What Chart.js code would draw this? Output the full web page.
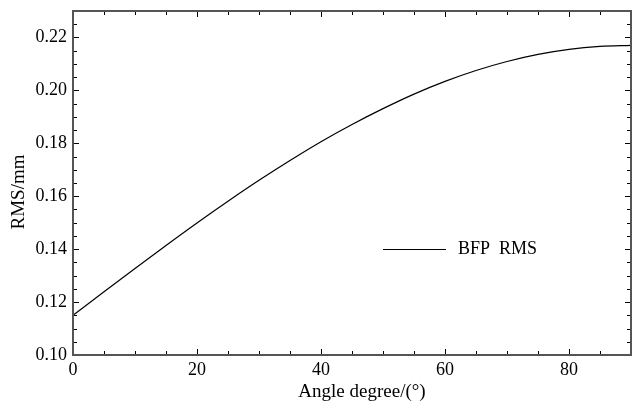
<!DOCTYPE html>
<html>
<head>
<meta charset="utf-8">
<title>BFP RMS vs angle</title>
<script src="https://cdn.jsdelivr.net/npm/chart.js@4.4.0/dist/chart.umd.min.js"></script>
<style>
  html, body { margin: 0; padding: 0; background: #fff; }
  #wrap { width: 632px; height: 404px; }
</style>
</head>
<body>
<div id="wrap"><canvas id="rmsChart" width="632" height="404"></canvas></div>
<script>
// RMS of the BFP surface against tilt angle
const angles = [0, 5, 10, 15, 20, 25, 30, 35, 40, 45, 50, 55, 60, 65, 70, 75, 80, 85, 90];
const rmsValues = [0.115, 0.1239, 0.1327, 0.1414, 0.1499, 0.1581, 0.166, 0.1735, 0.1806,
  0.1871, 0.1931, 0.1986, 0.2034, 0.2075, 0.2109, 0.2136, 0.2155, 0.2166, 0.217];

const xTicks = [0, 20, 40, 60, 80];
const yTicks = [0.10, 0.12, 0.14, 0.16, 0.18, 0.20, 0.22];
const xRange = [0, 90];
const yRange = [0.10, 0.23];

const serif = "'Liberation Serif', 'Times New Roman', serif";
const frameColor = "#555";

// minor ticks every 5 degrees and every 0.005 mm
const xMinor = [];
for (let v = 0; v <= 90; v += 5) xMinor.push(v);
const yMinor = [];
for (let i = 0; i <= 26; i++) yMinor.push(+(0.10 + i * 0.005).toFixed(3));

const frameAndTicks = {
  id: "frameAndTicks",
  afterDatasetsDraw(chart) {
    const { ctx, chartArea: a, scales } = chart;
    const xs = scales.x, ys = scales.y;
    ctx.save();

    // inward tick marks on all four sides
    ctx.strokeStyle = "#000";
    ctx.lineWidth = 1;
    const isMajorX = (v) => xTicks.includes(v);
    const isMajorY = (v) => yTicks.some((t) => Math.abs(t - v) < 1e-6);
    ctx.beginPath();
    xMinor.forEach((v) => {
      const px = Math.round(xs.getPixelForValue(v)) + 0.5;
      const len = isMajorX(v) ? 6 : 4;
      ctx.moveTo(px, a.bottom); ctx.lineTo(px, a.bottom - len);
      ctx.moveTo(px, a.top); ctx.lineTo(px, a.top + len);
    });
    yMinor.forEach((v) => {
      const py = Math.round(ys.getPixelForValue(v)) + 0.5;
      const len = isMajorY(v) ? 6 : 4;
      ctx.moveTo(a.left, py); ctx.lineTo(a.left + len, py);
      ctx.moveTo(a.right, py); ctx.lineTo(a.right - len, py);
    });
    ctx.stroke();

    // box around the plot
    ctx.strokeStyle = frameColor;
    ctx.lineWidth = 2;
    ctx.strokeRect(a.left, a.top, a.right - a.left, a.bottom - a.top);
    ctx.restore();
  }
};

const axisTitles = {
  id: "axisTitles",
  afterDraw(chart) {
    const { ctx, chartArea: a } = chart;
    ctx.save();
    ctx.fillStyle = "#000";
    ctx.font = "19px " + serif;
    ctx.textAlign = "center";
    ctx.textBaseline = "alphabetic";
    ctx.fillText("Angle degree/(\u00b0)", (a.left + a.right) / 2 + 10, 397);

    ctx.translate(24, (a.top + a.bottom) / 2 + 9);
    ctx.rotate(-Math.PI / 2);
    ctx.fillText("RMS/mm", 0, 0);
    ctx.restore();
  }
};

// legend sitting inside the plot, right of centre
const innerLegend = {
  id: "innerLegend",
  afterDraw(chart) {
    const { ctx } = chart;
    const ds = chart.data.datasets[0];
    const y = 249;
    ctx.save();
    ctx.strokeStyle = ds.borderColor;
    ctx.lineWidth = ds.borderWidth;
    ctx.beginPath();
    ctx.moveTo(383, y + 0.5);
    ctx.lineTo(446, y + 0.5);
    ctx.stroke();
    ctx.fillStyle = "#000";
    ctx.font = "18px " + serif;
    ctx.textBaseline = "middle";
    ctx.fillText(ds.label, 458, y);
    ctx.restore();
  }
};

new Chart(document.getElementById("rmsChart"), {
  type: "line",
  data: {
    labels: angles,
    datasets: [{
      label: "BFP  RMS",
      data: angles.map((a, i) => ({ x: a, y: rmsValues[i] })),
      borderColor: "#000",
      borderWidth: 1.2,
      pointRadius: 0,
      fill: false,
      cubicInterpolationMode: "monotone"
    }]
  },
  options: {
    responsive: false,
    animation: false,
    layout: { padding: { top: 11, right: 1, left: 0, bottom: 0 } },
    plugins: {
      legend: { display: false },
      tooltip: { enabled: false }
    },
    scales: {
      x: {
        type: "linear",
        min: xRange[0],
        max: xRange[1],
        grid: { display: false, drawTicks: false },
        border: { display: false },
        afterBuildTicks: (scale) => { scale.ticks = xTicks.map((v) => ({ value: v })); },
        afterFit: (scale) => {
          scale.height = 49;
          scale.paddingLeft = 0;
          scale.paddingRight = 0;
        },
        ticks: {
          color: "#000",
          padding: 4,
          maxRotation: 0,
          font: { family: serif, size: 18 },
          callback: (v) => String(v)
        }
      },
      y: {
        type: "linear",
        min: yRange[0],
        max: yRange[1],
        grid: { display: false, drawTicks: false },
        border: { display: false },
        afterBuildTicks: (scale) => { scale.ticks = yTicks.map((v) => ({ value: v })); },
        afterFit: (scale) => {
          scale.width = 73;
          scale.paddingTop = 0;
          scale.paddingBottom = 0;
        },
        ticks: {
          color: "#000",
          padding: 6,
          font: { family: serif, size: 18 },
          callback: (v) => Number(v).toFixed(2)
        }
      }
    }
  },
  plugins: [frameAndTicks, axisTitles, innerLegend]
});
</script>
</body>
</html>
